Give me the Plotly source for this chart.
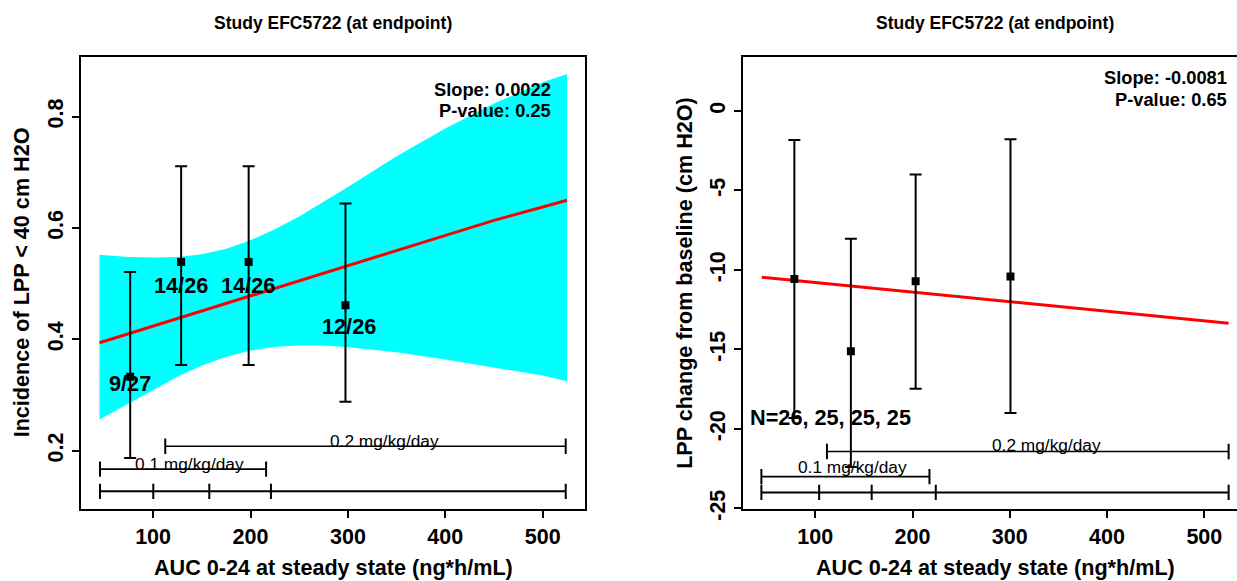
import plotly.graph_objects as go

W, H = 1237, 581
FONT = "Liberation Sans, Arial, Helvetica, sans-serif"

# ---------------- Left panel data ----------------
left_x = [76.5, 128.8, 198.1, 297.5]
left_y = [0.333, 0.539, 0.539, 0.4615]
left_hi = [0.521, 0.711, 0.711, 0.644]
left_lo = [0.187, 0.354, 0.354, 0.288]
left_labels = ["9/27", "14/26", "14/26", "12/26"]
left_label_x = [76.4, 128.9, 197.5, 300.7]
left_label_y = [0.320, 0.497, 0.497, 0.424]

fit_left_x = [45, 100, 150, 200, 250, 300, 350, 400, 450, 500, 525]
fit_left_y = [0.394, 0.424, 0.451, 0.478, 0.506, 0.533, 0.560, 0.587, 0.614, 0.638, 0.650]

band_x = [45, 75, 100, 125, 150, 175, 200, 225, 250, 275, 300, 350, 400, 450, 500, 525]
band_upper = [0.552, 0.548, 0.547, 0.548, 0.553, 0.563, 0.578, 0.598, 0.621, 0.647,
              0.674, 0.729, 0.779, 0.824, 0.862, 0.877]
band_lower = [0.256, 0.285, 0.310, 0.333, 0.353, 0.369, 0.380, 0.387, 0.389, 0.389,
              0.386, 0.377, 0.364, 0.350, 0.335, 0.325]

quart_left = [45.5, 100.2, 157.7, 221.0, 523.6]
quart_left_y = 0.127
dose1_left = [45.5, 216.0]
dose1_left_y = 0.167
dose2_left = [112.5, 523.6]
dose2_left_y = 0.208
dose_text_left = [("0.1 mg/kg/day", 137.6, 0.177), ("0.2 mg/kg/day", 337.5, 0.217)]

# ---------------- Right panel data ----------------
right_x = [78.5, 136.6, 203.2, 300.7]
right_y = [-10.57, -15.12, -10.71, -10.41]
right_hi = [-1.83, -8.03, -4.00, -1.78]
right_lo = [-19.31, -22.40, -17.47, -18.99]

fit_right_x = [45, 100, 200, 300, 400, 500, 525]
fit_right_y = [-10.46, -10.79, -11.39, -11.99, -12.59, -13.20, -13.35]

quart_right = [44.6, 104.0, 158.0, 223.9, 525.0]
quart_right_y = -23.99
dose1_right = [44.6, 217.4]
dose1_right_y = -23.0
dose2_right = [112.0, 525.0]
dose2_right_y = -21.42
dose_text_right = [("0.1 mg/kg/day", 138.0, -22.42), ("0.2 mg/kg/day", 338.2, -21.0)]
n_text_right = ("N=26, 25, 25, 25", 116.0, -19.25)

x_ticks = [100, 200, 300, 400, 500]
left_y_ticks = [0.2, 0.4, 0.6, 0.8]
right_y_ticks = [0, -5, -10, -15, -20, -25]

title_text = "Study EFC5722 (at endpoint)"
xlab = "AUC 0-24 at steady state (ng*h/mL)"
ylab_left = "Incidence of LPP < 40 cm H2O"
ylab_right = "LPP change from baseline (cm H2O)"
stats_left = ["Slope: 0.0022", "P-value: 0.25"]
stats_right = ["Slope: -0.0081", "P-value: 0.65"]

# ---------------- Geometry (pixels) ----------------
L_x0, L_x1 = 81.3, 584.7
R_x0, R_x1 = 743.3, 1237.0
Y_top, Y_bot = 56.7, 508.6


def px(v):
    return v / W


def py(v):
    return 1 - v / H


def b(t):
    return "<b>" + str(t) + "</b>"


fig = go.Figure()


def add_range_bar(xs, yv, xa, ya, lw):
    fig.add_trace(go.Scatter(
        x=xs, y=[yv] * len(xs), xaxis=xa, yaxis=ya, mode="lines+markers",
        line=dict(color="black", width=lw),
        marker=dict(symbol="line-ns", size=11, color="black",
                    line=dict(color="black", width=2)),
        hoverinfo="skip", showlegend=False))


# Left band
fig.add_trace(go.Scatter(x=band_x, y=band_lower, mode="lines", line=dict(width=0, color="cyan"),
                         xaxis="x", yaxis="y", showlegend=False, hoverinfo="skip"))
fig.add_trace(go.Scatter(x=band_x, y=band_upper, mode="lines", line=dict(width=0, color="cyan"),
                         fill="tonexty", fillcolor="#00FFFF",
                         xaxis="x", yaxis="y", showlegend=False, hoverinfo="skip"))
# Left fit
fig.add_trace(go.Scatter(x=fit_left_x, y=fit_left_y, mode="lines",
                         line=dict(color="#FF0000", width=3),
                         xaxis="x", yaxis="y", showlegend=False))
# Left range bars
add_range_bar(quart_left, quart_left_y, "x", "y", 2)
add_range_bar(dose1_left, dose1_left_y, "x", "y", 1.6)
add_range_bar(dose2_left, dose2_left_y, "x", "y", 1.6)
# Left points
fig.add_trace(go.Scatter(
    x=left_x, y=left_y, mode="markers", xaxis="x", yaxis="y",
    marker=dict(symbol="square", size=8, color="black"),
    error_y=dict(type="data", symmetric=False,
                 array=[h - m for h, m in zip(left_hi, left_y)],
                 arrayminus=[m - l for l, m in zip(left_lo, left_y)],
                 color="black", thickness=2, width=6),
    showlegend=False))

# Right fit
fig.add_trace(go.Scatter(x=fit_right_x, y=fit_right_y, mode="lines",
                         line=dict(color="#FF0000", width=3),
                         xaxis="x2", yaxis="y2", showlegend=False))
add_range_bar(quart_right, quart_right_y, "x2", "y2", 2)
add_range_bar(dose1_right, dose1_right_y, "x2", "y2", 1.6)
add_range_bar(dose2_right, dose2_right_y, "x2", "y2", 1.6)
fig.add_trace(go.Scatter(
    x=right_x, y=right_y, mode="markers", xaxis="x2", yaxis="y2",
    marker=dict(symbol="square", size=8, color="black"),
    error_y=dict(type="data", symmetric=False,
                 array=[h - m for h, m in zip(right_hi, right_y)],
                 arrayminus=[m - l for l, m in zip(right_lo, right_y)],
                 color="black", thickness=2, width=6),
    showlegend=False))

ann = []
bold22 = dict(family=FONT, size=21.7, color="black", weight="bold")
norm = dict(family=FONT, size=17.3, color="black")
for t, x, y in zip(left_labels, left_label_x, left_label_y):
    ann.append(dict(text=b(t), x=x, y=y, xref="x", yref="y", showarrow=False, font=bold22))
for t, x, y in dose_text_left:
    ann.append(dict(text=t, x=x, y=y, xref="x", yref="y", showarrow=False, font=norm))
for t, x, y in dose_text_right:
    ann.append(dict(text=t, x=x, y=y, xref="x2", yref="y2", showarrow=False, font=norm))
ann.append(dict(text=b(n_text_right[0]), x=n_text_right[1], y=n_text_right[2], xref="x2", yref="y2",
                showarrow=False, font=bold22))

stat_font = dict(family=FONT, size=18.3, color="black", weight="bold")
for t, yy in zip(stats_left, [90, 110.7]):
    ann.append(dict(text=b(t), x=px(553.3), y=py(yy), xref="paper", yref="paper",
                    xanchor="right", yanchor="middle", showarrow=False, font=stat_font))
for t, yy in zip(stats_right, [77.3, 99.3]):
    ann.append(dict(text=b(t), x=px(1229.3), y=py(yy), xref="paper", yref="paper",
                    xanchor="right", yanchor="middle", showarrow=False, font=stat_font))

title_font = dict(family=FONT, size=17.5, color="black", weight="bold")
lab_font = dict(family=FONT, size=21.6, color="black", weight="bold")
for cx in [(L_x0 + L_x1) / 2, 995.0]:
    ann.append(dict(text=b(title_text), x=px(cx), y=py(23), xref="paper", yref="paper",
                    xanchor="center", yanchor="middle", showarrow=False, font=title_font))
for cx in [(L_x0 + L_x1) / 2, 995.0]:
    ann.append(dict(text=b(xlab), x=px(cx), y=py(567), xref="paper", yref="paper",
                    xanchor="center", yanchor="middle", showarrow=False, font=lab_font))
ann.append(dict(text=b(ylab_left.replace("<", "&lt;")), x=px(21.7), y=py((Y_top + Y_bot) / 2),
                xref="paper", yref="paper", xanchor="center", yanchor="middle", textangle=-90,
                showarrow=False, font=lab_font))
ann.append(dict(text=b(ylab_right), x=px(684.2), y=py((Y_top + Y_bot) / 2), xref="paper", yref="paper",
                xanchor="center", yanchor="middle", textangle=-90, showarrow=False, font=lab_font))

tick_font = dict(family=FONT, size=21.5, color="black", weight="bold")
axis_common = dict(showgrid=False, zeroline=False, showline=True, linecolor="black", linewidth=1.5,
                   ticks="outside", ticklen=8, tickwidth=1.5, tickcolor="black", tickfont=tick_font,
                   automargin=False)

fig.update_layout(
    width=W, height=H, margin=dict(l=0, r=0, t=0, b=0, pad=0, autoexpand=False),
    paper_bgcolor="white", plot_bgcolor="white", showlegend=False,
    xaxis=dict(domain=[px(L_x0), px(L_x1)], range=[26.3, 543.1], tickvals=x_ticks,
               ticktext=[b(v) for v in x_ticks], mirror=True, anchor="y", **axis_common),
    yaxis=dict(domain=[py(Y_bot), py(Y_top)], range=[0.096, 0.908], tickvals=left_y_ticks,
               ticktext=[b(v) for v in left_y_ticks], tickangle=-90,
               mirror=True, anchor="x", **axis_common),
    xaxis2=dict(domain=[px(R_x0), px(R_x1)], range=[26.0, 533.6], tickvals=x_ticks,
                ticktext=[b(v) for v in x_ticks], mirror=True, anchor="y2", **axis_common),
    yaxis2=dict(domain=[py(Y_bot), py(Y_top)], range=[-25.01, 3.415], tickvals=right_y_ticks,
                ticktext=[b(v) for v in right_y_ticks], tickangle=-90,
                mirror=False, anchor="x2", **axis_common),
    annotations=ann,
)

fig.write_html("out.html")
